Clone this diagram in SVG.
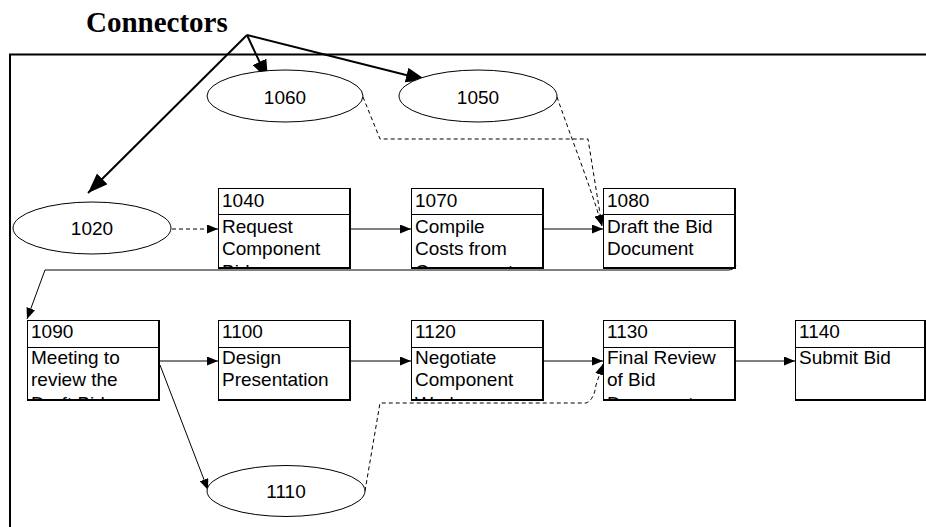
<svg xmlns="http://www.w3.org/2000/svg" width="926" height="527" viewBox="0 0 926 527">
<style>
.t{font-family:"Liberation Sans",Arial,sans-serif;font-size:19px;fill:#000}
.e{fill:#fff;stroke:#000;stroke-width:1}
.b{fill:#fff;stroke:#000;stroke-width:1}
.sh{fill:none;stroke:#000;stroke-width:2}
.c{fill:none;stroke:#000;stroke-width:1}
.d{fill:none;stroke:#000;stroke-width:1;stroke-dasharray:4 3}
.big{fill:none;stroke:#000;stroke-width:2}
</style>
<defs>
<marker id="a" markerUnits="userSpaceOnUse" markerWidth="11" markerHeight="9" refX="11" refY="4.5" orient="auto"><path d="M0,0 L11,4.5 L0,9 z" fill="#000"/></marker>
<marker id="A" markerUnits="userSpaceOnUse" markerWidth="20" markerHeight="15" refX="20" refY="7.5" orient="auto"><path d="M0,0 L20,7.5 L0,15 z" fill="#000"/></marker>
<clipPath id="k1040"><rect x="219" y="215" width="130" height="52"/></clipPath>
<clipPath id="k1070"><rect x="412" y="215" width="130" height="52"/></clipPath>
<clipPath id="k1080"><rect x="604" y="215" width="130" height="52"/></clipPath>
<clipPath id="k1090"><rect x="28" y="348" width="130" height="51"/></clipPath>
<clipPath id="k1100"><rect x="219" y="348" width="130" height="51"/></clipPath>
<clipPath id="k1120"><rect x="412" y="348" width="130" height="51"/></clipPath>
<clipPath id="k1130"><rect x="604" y="348" width="130" height="51"/></clipPath>
<clipPath id="k1140"><rect x="796" y="348" width="130" height="51"/></clipPath>
</defs>
<rect x="0" y="0" width="926" height="527" fill="#fff"/>
<path d="M927,54.5 H10 V528" fill="none" stroke="#000" stroke-width="2"/>
<text x="86" y="32" font-family="'Liberation Serif','Times New Roman',serif" font-weight="bold" font-size="29">Connectors</text>
<g id="callouts">
<path class="big" d="M247,35 L268,80" marker-end="url(#A)"/>
<path class="big" d="M247,35 L426,80" marker-end="url(#A)"/>
<path class="big" d="M247,35 L88,193" marker-end="url(#A)"/>
</g>
<g id="connectors">
<path class="d" d="M172,229 H218" marker-end="url(#a)"/>
<path class="c" d="M351,229 H411" marker-end="url(#a)"/>
<path class="c" d="M544,229 H603" marker-end="url(#a)"/>
<path class="d" d="M363,97 L380,139 H588 L602,226" marker-end="url(#a)"/>
<path class="d" d="M557,97 C572,140 590,185 602,226" marker-end="url(#a)"/>
<path class="c" d="M736,265 Q734,270 728,270 H45 L27,319" marker-end="url(#a)"/>
<path class="c" d="M159,361 H218" marker-end="url(#a)"/>
<path class="c" d="M351,361 H411" marker-end="url(#a)"/>
<path class="c" d="M544,361 H603" marker-end="url(#a)"/>
<path class="c" d="M736,361 H795" marker-end="url(#a)"/>
<path class="c" d="M160,365 L208,490" marker-end="url(#a)"/>
<path class="d" d="M365,491 L380,403 H586 Q594,400 596,385 L603,364" marker-end="url(#a)"/>
</g>
<g id="n1060"><ellipse class="e" cx="285" cy="96" rx="78" ry="26"/><text class="t" x="285" y="104" text-anchor="middle">1060</text></g>
<g id="n1050"><ellipse class="e" cx="478" cy="96" rx="79" ry="26"/><text class="t" x="478" y="104" text-anchor="middle">1050</text></g>
<g id="n1020"><ellipse class="e" cx="92" cy="228" rx="79" ry="26"/><text class="t" x="92" y="235" text-anchor="middle">1020</text></g>
<g id="n1110"><ellipse class="e" cx="286" cy="491" rx="79" ry="25.5"/><text class="t" x="286" y="498" text-anchor="middle">1110</text></g>
<g id="n1040">
<rect class="b" x="218.5" y="188.5" width="131" height="79"/><path class="sh" d="M350,188 V268 H218"/><path class="c" d="M218,214.5 H350"/>
<text class="t" x="222" y="207">1040</text>
<g clip-path="url(#k1040)"><text class="t" x="222" y="233">Request</text><text class="t" x="222" y="255">Component</text><text class="t" x="222" y="278">Bids</text></g>
</g>
<g id="n1070">
<rect class="b" x="411.5" y="188.5" width="131" height="79"/><path class="sh" d="M543,188 V268 H411"/><path class="c" d="M411,214.5 H543"/>
<text class="t" x="415" y="207">1070</text>
<g clip-path="url(#k1070)"><text class="t" x="415" y="233">Compile</text><text class="t" x="415" y="255">Costs from</text><text class="t" x="415" y="278">Components</text></g>
</g>
<g id="n1080">
<rect class="b" x="603.5" y="188.5" width="131" height="79"/><path class="sh" d="M735,188 V268 H603"/><path class="c" d="M603,214.5 H735"/>
<text class="t" x="607" y="207">1080</text>
<g clip-path="url(#k1080)"><text class="t" x="607" y="233">Draft the Bid</text><text class="t" x="607" y="255">Document</text></g>
</g>
<g id="n1090">
<rect class="b" x="27.5" y="320.5" width="131" height="79"/><path class="sh" d="M159,320 V400 H27"/><path class="c" d="M27,347.5 H159"/>
<text class="t" x="31" y="338">1090</text>
<g clip-path="url(#k1090)"><text class="t" x="31" y="364">Meeting to</text><text class="t" x="31" y="386">review the</text><text class="t" x="31" y="410">Draft Bid</text></g>
</g>
<g id="n1100">
<rect class="b" x="218.5" y="320.5" width="131" height="79"/><path class="sh" d="M350,320 V400 H218"/><path class="c" d="M218,347.5 H350"/>
<text class="t" x="222" y="338">1100</text>
<g clip-path="url(#k1100)"><text class="t" x="222" y="364">Design</text><text class="t" x="222" y="386">Presentation</text></g>
</g>
<g id="n1120">
<rect class="b" x="411.5" y="320.5" width="131" height="79"/><path class="sh" d="M543,320 V400 H411"/><path class="c" d="M411,347.5 H543"/>
<text class="t" x="415" y="338">1120</text>
<g clip-path="url(#k1120)"><text class="t" x="415" y="364">Negotiate</text><text class="t" x="415" y="386">Component</text><text class="t" x="415" y="410">Work</text></g>
</g>
<g id="n1130">
<rect class="b" x="603.5" y="320.5" width="131" height="79"/><path class="sh" d="M735,320 V400 H603"/><path class="c" d="M603,347.5 H735"/>
<text class="t" x="607" y="338">1130</text>
<g clip-path="url(#k1130)"><text class="t" x="607" y="364">Final Review</text><text class="t" x="607" y="386">of Bid</text><text class="t" x="607" y="410">Document</text></g>
</g>
<g id="n1140">
<rect class="b" x="795.5" y="320.5" width="129" height="79"/><path class="sh" d="M925,320 V400 H795"/><path class="c" d="M795,347.5 H925"/>
<text class="t" x="799" y="338">1140</text>
<g clip-path="url(#k1140)"><text class="t" x="799" y="364">Submit Bid</text></g>
</g>
</svg>
